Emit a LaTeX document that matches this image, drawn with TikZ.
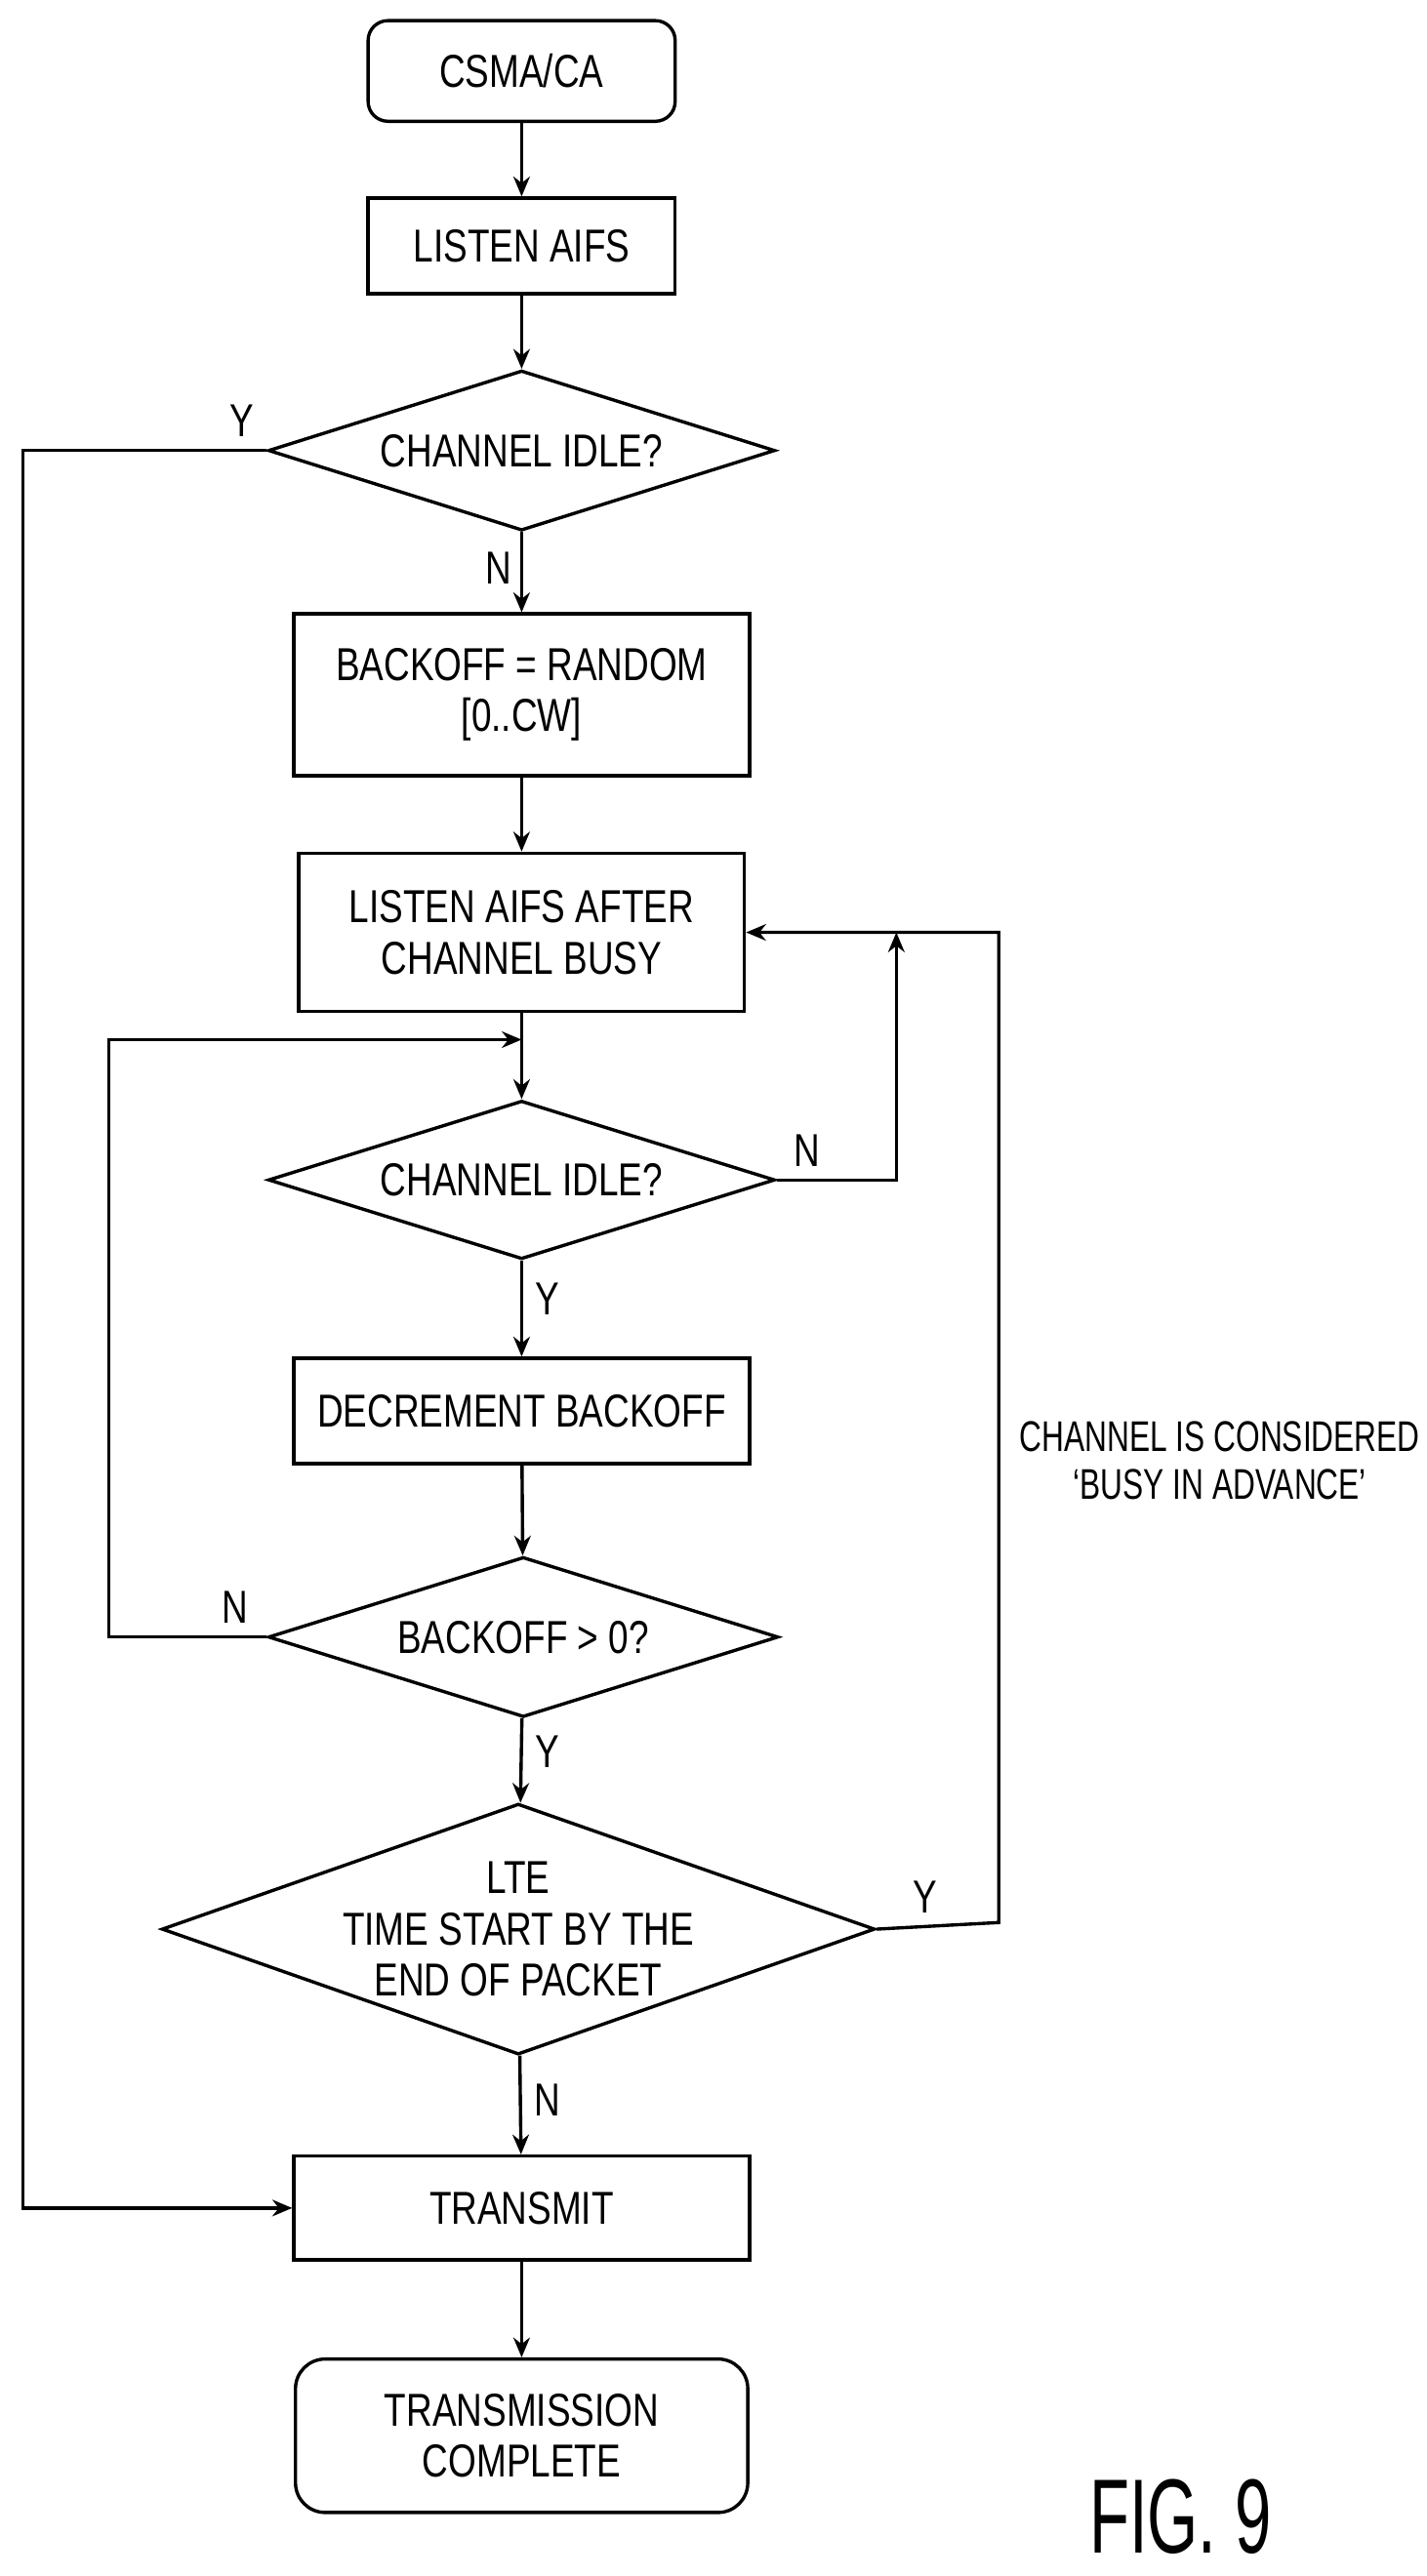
\documentclass[tikz,border=0pt]{standalone}
\usepackage{fontspec}
\setmainfont{Liberation Sans}[FakeStretch=0.78]
\newfontfamily\figfont{Liberation Sans}[FakeStretch=0.62]
\newfontfamily\notefont{Liberation Sans}[FakeStretch=0.72]
\usetikzlibrary{shapes.geometric,arrows.meta}
\begin{document}
\begin{tikzpicture}[x=1pt,y=-1pt,
  box/.style={draw,line width=2pt,minimum width=276pt,align=center,font=\fontsize{28}{31}\selectfont,inner sep=0pt},
  rbox/.style={box,rounded corners=12pt},
  dia/.style={draw,line width=2pt,diamond,aspect=3.2,inner sep=0pt},
  txt/.style={align=center,font=\fontsize{28}{31}\selectfont,inner sep=0pt},
  ln/.style={line width=2pt},
  ar/.style={ln,-{Stealth[length=12pt,width=10pt]}},
  lab/.style={font=\fontsize{28}{31}\selectfont}]
\useasboundingbox (0,0) rectangle (864,1561);
\node[rbox,minimum width=186pt,minimum height=61pt] (start) at (316,43) {CSMA/CA};
\node[box,minimum width=186pt,minimum height=58pt] (listen) at (316,149) {LISTEN AIFS};
\node[dia,minimum width=307pt,minimum height=97pt] (d1) at (316,273) {};
\node[txt] (t1) at (d1) {CHANNEL IDLE?};
\node[box,minimum height=98pt] (bo) at (316,421) {BACKOFF = RANDOM\\{[0..CW]}};
\node[box,minimum width=270pt,minimum height=96pt] (la) at (316,565) {LISTEN AIFS AFTER\\CHANNEL BUSY};
\coordinate (j) at (316,630);
\node[dia,minimum width=307pt,minimum height=96pt] (d2) at (316,715) {};
\node[txt] (t2) at (d2) {CHANNEL IDLE?};
\node[box,minimum height=64pt] (dec) at (316,855) {DECREMENT BACKOFF};
\node[dia,minimum width=309pt,minimum height=97pt] (d3) at (317,992) {};
\node[txt] (t3) at (d3) {BACKOFF > 0?};
\node[dia,minimum width=432pt,minimum height=152pt] (d4) at (314,1169) {};
\node[txt] (t4) at (d4) {LTE\\TIME START BY THE\\END OF PACKET};
\node[box,minimum height=63pt] (tx) at (316,1338) {TRANSMIT};
\node[rbox,minimum width=274pt,minimum height=93pt,rounded corners=18pt] (done) at (316,1476) {TRANSMISSION\\COMPLETE};
\node[align=center,font=\notefont\fontsize{26}{29}\selectfont] (note) at (739,885) {CHANNEL IS CONSIDERED\\‘BUSY IN ADVANCE’};
\node[font=\figfont\fontsize{64}{66}\selectfont] (fig) at (715,1525) {FIG. 9};
\draw[ar] (start) -- (listen);
\draw[ar] (listen) -- (d1);
\draw[ar] (d1) -- node[lab,pos=0.45,left=2pt]{N} (bo);
\draw[ar] (bo) -- (la);
\draw[ln] (la.south) -- (j);
\draw[ar] (j) -- (d2.north);
\draw[ar] (d2) -- node[lab,pos=0.4,right=4pt]{Y} (dec);
\draw[ar] (dec) -- (d3);
\draw[ar] (d3) -- node[lab,pos=0.4,right=4pt]{Y} (d4);
\draw[ar] (d4) -- node[lab,pos=0.45,right=4pt]{N} (tx);
\draw[ar] (tx) -- (done);
\draw[ar] (d1.west) -- node[lab,above=4pt,pos=0.1]{Y} (14,273) |- (tx.west);
\draw[ar] (d2.east) -- node[lab,above=4pt,pos=0.25]{N} (543,715) -- (543,565);
\draw[ar] (d3.west) -- node[lab,above=4pt,pos=0.2]{N} (66,992) |- (j);
\draw[ar] (d4.east) -- node[lab,above=4pt,pos=0.4]{Y} (605,1165) |- (la.east);
\end{tikzpicture}
\end{document}
